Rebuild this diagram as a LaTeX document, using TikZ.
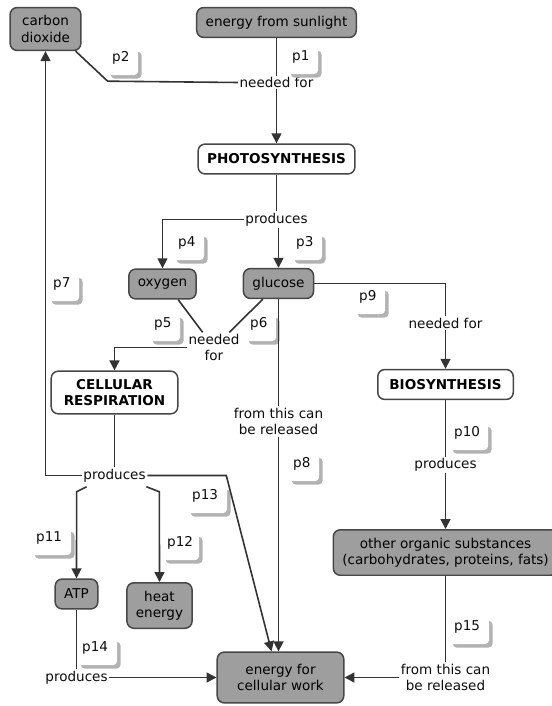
\documentclass[tikz,border=0pt]{standalone}
\usepackage{fontspec}
\setmainfont{DejaVu Sans}
\usetikzlibrary{arrows.meta,shadows}

\tikzset{
  cbox/.style={rectangle, rounded corners=7pt, draw=black!72, line width=1.5pt,
    fill=black!38, text=black, align=center, inner xsep=9pt, inner ysep=8pt,
    minimum height=30pt},
  pbox/.style={cbox, fill=white, font=\fontsize{13.6pt}{16.5pt}\selectfont\bfseries},
  linkword/.style={fill=white, inner sep=1.5pt, align=center, text=black!95},
  pnote/.style={rectangle, rounded corners=4pt, fill=white, anchor=north west,
    align=left, text width=#1, inner xsep=5pt, inner ysep=3pt,
    text height=10pt, text depth=11pt, text=black!95,
    drop shadow={shadow xshift=3.5pt, shadow yshift=-3.5pt, fill=black!30, opacity=1}},
  pnote/.default=21pt,
  conn/.style={line width=1.6pt, draw=black!80},
  connarrow/.style={conn, -{Triangle[length=10pt,width=10pt]}},
}

\begin{document}
\begin{tikzpicture}[x=1bp, y=-1bp, font=\fontsize{13.6pt}{16.5pt}\selectfont]
  \useasboundingbox (0,0) rectangle (552,706);
  % Concepts
  \node (co2) [cbox, minimum width=71pt] at (45.5,29) {carbon\\dioxide};
  \node (sun) [cbox] at (276.5,22.5) {energy from sunlight};
  \node (photo) [pbox] at (276.5,159) {PHOTOSYNTHESIS};
  \node (oxy) [cbox] at (162.5,284) {oxygen};
  \node (glu) [cbox] at (278.5,283.5) {glucose};
  \node (cr) [pbox, minimum width=127pt] at (114.5,392.5) {CELLULAR\\RESPIRATION};
  \node (bio) [pbox, minimum width=136pt] at (445.5,384.5) {BIOSYNTHESIS};
  \node (atp) [cbox] at (76.5,594) {ATP};
  \node (heat) [cbox] at (159.5,605.5) {heat\\energy};
  \node (other) [cbox] at (445.5,552.5) {other organic substances\\(carbohydrates, proteins, fats)};
  \node (work) [cbox, minimum width=127pt, minimum height=51pt] at (280.5,677.5) {energy for\\cellular work};
  % Linking words
  \node (nf1) [linkword] at (276.5,82.5) {needed for};
  \node (pr1) [linkword] at (276.5,219.5) {produces};
  \node (nf2) [linkword] at (214,347.5) {needed\\for};
  \node (nf3) [linkword] at (445.5,323) {needed for};
  \node (rel1) [linkword] at (278.5,421.5) {from this can\\be released};
  \node (pr2) [linkword] at (114.5,475.5) {produces};
  \node (pr3) [linkword] at (445.5,465) {produces};
  \node (pr4) [linkword] at (76.5,677.5) {produces};
  \node (rel2) [linkword] at (445.5,677.5) {from this can\\be released};
  % Proposition tags
  \node (p1) [pnote] at (287,47) {p1};
  \node (p2) [pnote] at (107,48) {p2};
  \node (p3) [pnote] at (291,233) {p3};
  \node (p4) [pnote] at (173,233) {p4};
  \node (p5) [pnote] at (149,314) {p5};
  \node (p6) [pnote] at (245,314) {p6};
  \node (p7) [pnote] at (48,274) {p7};
  \node (p8) [pnote] at (288,454) {p8};
  \node (p9) [pnote] at (354,287) {p9};
  \node (p10) [pnote=29pt] at (449,423) {p10};
  \node (p11) [pnote=30pt] at (31,528) {p11};
  \node (p12) [pnote=27pt] at (162,533) {p12};
  \node (p13) [pnote=30pt] at (187,486) {p13};
  \node (p14) [pnote=30pt] at (77,638) {p14};
  \node (p15) [pnote=30pt] at (449,617) {p15};
  % Connectors
  \draw[conn] (sun) -- (nf1);
  \draw[conn] ([xshift=-6pt]co2.south east) -- ++(32,30) -- (nf1.west);
  \draw[connarrow] (nf1) -- (photo);
  \draw[conn] (photo) -- (pr1);
  \draw[connarrow] (pr1.west) -| (oxy.north);
  \draw[connarrow] (pr1.south -| glu.north) -- (glu.north);
  \draw[conn] (oxy.-45) -- (nf2);
  \draw[conn] (glu.-135) -- (nf2);
  \draw[connarrow] (nf2.west) -| (cr.north);
  \draw[conn] (glu.east) -| (nf3.north);
  \draw[connarrow] (nf3) -- (bio);
  \draw[conn] (glu) -- (rel1);
  \draw[connarrow] (rel1.south) -- (rel1.south |- work.north);
  \draw[conn] (cr) -- (pr2);
  \draw[connarrow] (pr2.west) -| (co2.south);
  \draw[connarrow] (pr2.east) -- ++(79,0) -- ([xshift=-9pt]work.north);
  \draw[connarrow] ([xshift=-28pt,yshift=-3pt]pr2.south) -- ++(-10,5) -- (atp.north);
  \draw[connarrow] ([xshift=32pt,yshift=-3pt]pr2.south) -- ++(13,5) -- (heat.north);
  \draw[conn] (atp) -- (pr4);
  \draw[connarrow] (pr4) -- (work);
  \draw[conn] (bio) -- (pr3);
  \draw[connarrow] (pr3) -- (other);
  \draw[conn] (other) -- (rel2);
  \draw[connarrow] (rel2) -- (work);
\end{tikzpicture}
\end{document}
